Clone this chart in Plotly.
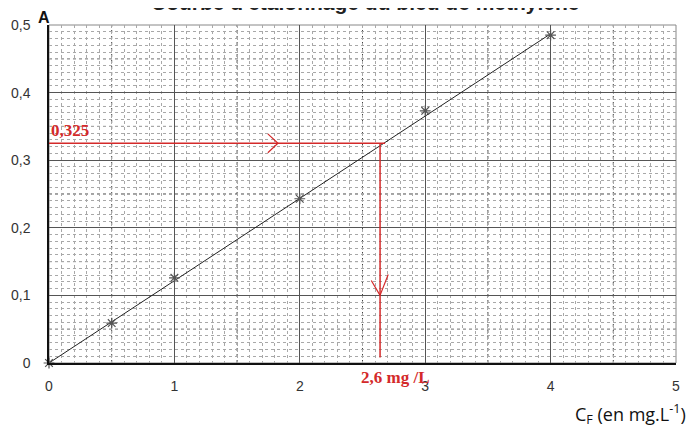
import numpy as np
import plotly.graph_objects as go

# Data
conc = [0, 0.5, 1, 2, 3, 4]                       # C_F (mg/L)
absorb = [0.0, 0.059, 0.126, 0.243, 0.373, 0.485]  # A
fit_x = [0, 4]
fit_y = [0.0, 0.487]
a_read = 0.325
c_read = 2.64
x_ticks = [0, 1, 2, 3, 4, 5]
x_ticktext = ["0", "1", "2", "3", "4", "5"]
y_ticks = [0, 0.1, 0.2, 0.3, 0.4, 0.5]
y_ticktext = ["0", "0,1", "0,2", "0,3", "0,4", "0,5"]

RED = "#d42a2a"
fig = go.Figure()

# half-unit darker grid lines (graph paper)
shapes = []
for xv in np.arange(0.5, 5, 1.0):
    shapes.append(dict(type="line", xref="x", yref="paper", x0=xv, x1=xv, y0=0, y1=1,
                       line=dict(color="#444", width=1, dash="dot"), layer="below"))
for yv in np.arange(0.05, 0.5, 0.1):
    shapes.append(dict(type="line", xref="paper", yref="y", x0=0, x1=1, y0=yv, y1=yv,
                       line=dict(color="#444", width=1, dash="dot"), layer="below"))
shapes.append(dict(type="rect", xref="paper", yref="paper", x0=0, x1=1, y0=0, y1=1,
                   line=dict(color="#888", width=1), layer="below"))

# fit line
fig.add_trace(go.Scatter(x=fit_x, y=fit_y, mode="lines",
                         line=dict(color="#222", width=1), cliponaxis=False, showlegend=False))
# measured points
fig.add_trace(go.Scatter(x=conc, y=absorb, mode="markers",
                         marker=dict(symbol="asterisk-open", size=9, color="#555",
                                     line=dict(color="#555", width=1.2)),
                         cliponaxis=False, showlegend=False))
# red reading lines
fig.add_trace(go.Scatter(x=[0, c_read + 0.04], y=[a_read, a_read], mode="lines",
                         line=dict(color=RED, width=1.5), showlegend=False))
fig.add_trace(go.Scatter(x=[c_read, c_read], y=[a_read, 0.008], mode="lines",
                         line=dict(color=RED, width=1.5), showlegend=False))
# arrowheads
fig.add_trace(go.Scatter(x=[1.745, 1.826, 1.745], y=[a_read + 0.014, a_read, a_read - 0.014],
                         mode="lines", line=dict(color=RED, width=1.2), showlegend=False))
fig.add_trace(go.Scatter(x=[c_read - 0.07, c_read, c_read + 0.065], y=[0.122, 0.1, 0.131],
                         mode="lines", line=dict(color=RED, width=1.2), showlegend=False))

annotations = [
    dict(text="<b>A</b>", xref="paper", yref="paper", x=-0.008, y=1.022,
         xanchor="center", yanchor="middle", showarrow=False,
         font=dict(family="Liberation Sans, Arial", size=16, color="#111")),
    dict(text="<b>0,325</b>", xref="paper", x=0.0, y=a_read + 0.0015, yref="y",
         xanchor="left", yanchor="bottom", showarrow=False,
         font=dict(family="Liberation Serif, Times New Roman", size=17, color=RED)),
    dict(text="<b>2,6 mg /L</b>", xref="x", x=c_read - 0.17, yref="paper", y=-0.008,
         xanchor="left", yanchor="top", showarrow=False,
         font=dict(family="Liberation Serif, Times New Roman", size=17, color=RED)),
    dict(text="C<sub>F</sub> (en mg.L<sup>-1</sup>)", xref="paper", yref="paper",
         x=0.835, y=-0.105, xanchor="left", yanchor="top", showarrow=False,
         font=dict(family="Open Sans, Liberation Sans", size=18, color="#111")),
    dict(text="<b>Courbe d'étalonnage du bleu de méthylène</b>", xref="paper", yref="paper",
         x=0.505, y=1.028, xanchor="center", yanchor="bottom", showarrow=False,
         font=dict(family="Liberation Sans, Arial", size=21, color="#222")),
]

fig.update_layout(
    width=695, height=432,
    margin=dict(l=41, r=27, t=17, b=77, autoexpand=False),
    paper_bgcolor="white", plot_bgcolor="white",
    shapes=shapes, annotations=annotations,
    font=dict(family="Liberation Sans, Arial", size=14, color="#333"),
    xaxis=dict(range=[0, 5], tickvals=x_ticks, ticktext=x_ticktext, automargin=False,
               showgrid=True, gridcolor="#555", gridwidth=1,
               minor=dict(dtick=0.1, showgrid=True, gridcolor="#a8a8a8", griddash="dot"),
               showline=True, linecolor="#111", linewidth=1.5, zeroline=False,
               ticks="", ticklabelstandoff=9, fixedrange=True),
    yaxis=dict(range=[0, 0.5], tickvals=y_ticks, ticktext=y_ticktext, automargin=False,
               showgrid=True, gridcolor="#555", gridwidth=1,
               minor=dict(dtick=0.01, showgrid=True, gridcolor="#a8a8a8", griddash="dot"),
               showline=True, linecolor="#111", linewidth=1.5, zeroline=False,
               ticks="", ticklabelstandoff=14, fixedrange=True),
)

fig.write_html("out.html")
